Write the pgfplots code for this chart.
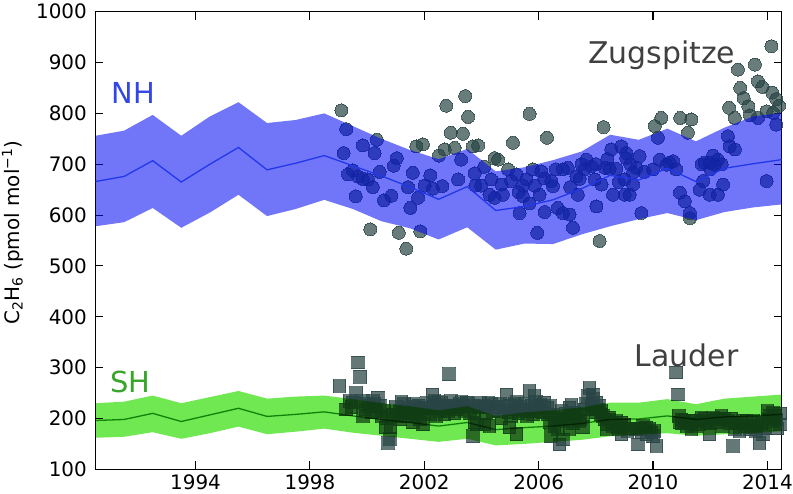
\documentclass[border=0pt]{standalone}
\usepackage{fontspec}
\setmainfont{DejaVu Sans}
\usepackage{pgfplots}
\pgfplotsset{compat=1.18}
\usepackage{pgfplotstable}

\definecolor{nhfill}{RGB}{0,10,240}
\definecolor{nhline}{RGB}{35,55,235}
\definecolor{shfill}{RGB}{112,232,82}
\definecolor{shline}{RGB}{35,145,30}
\definecolor{mk}{RGB}{40,68,68}
\definecolor{nhtext}{RGB}{50,70,230}
\definecolor{shtext}{RGB}{55,165,40}
\definecolor{sitetext}{RGB}{64,64,64}

\pgfplotstableread{
yr nhmid shmid
1990.5 666 196
1991.5 676 198
1992.5 707 210
1993.5 665 194
1994.5 700 207
1995.5 733 220
1996.5 689 204
1997.5 702 208
1998.5 717 213
1999.5 697 205
2000.5 677 198
2001.5 655 192
2002.5 631 185
2003.5 656 192
2004.5 609 178
2005.5 617 182
2006.5 630 185
2007.5 652 190
2008.5 678 198
2009.5 669 199
2010.5 692 205
2011.5 666 198
2012.5 692 203
2013.5 701 205
2014.5 709 208
}\model

\pgfplotstableread{
yr v
1999.10 806
1999.27 769
1999.18 722
1999.85 737
2000.34 748
2000.26 722
1999.33 680
1999.50 688
1999.68 676
1999.85 671
2000.03 670
2000.20 655
1999.60 637
2000.44 685
2000.59 629
2000.85 638
2000.93 697
2001.04 712
2001.43 655
2001.60 683
2001.51 614
2001.78 634
2001.72 735
2001.95 739
2002.01 658
2002.21 678
2002.30 652
2002.63 657
2002.51 717
2002.71 729
2002.92 762
2002.77 815
2003.43 834
2003.53 793
2003.35 760
2003.06 732
2003.29 709
2003.18 670
2003.70 735
2003.79 658
2000.11 572
2001.11 565
2001.37 534
2001.86 568
2003.88 737
2005.68 799
2006.29 752
2005.10 742
2004.58 709
2004.46 712
2004.93 690
2005.22 680
2003.76 682
2004.34 670
2003.99 658
2004.28 640
2004.46 634
2004.75 640
2005.04 667
2005.45 658
2005.57 670
2005.45 637
2005.68 623
2005.33 604
2006.09 686
2005.86 658
2006.03 640
2006.21 606
2006.44 667
2006.50 657
2006.67 614
2006.85 604
2007.08 601
2007.20 575
2005.95 565
2006.85 690
2007.02 693
2007.37 640
2007.32 676
2007.67 709
2007.61 690
2007.84 696
2007.43 671
2008.02 617
2007.96 670
2008.31 693
2008.48 691
2008.72 691
2008.54 729
2008.89 735
2009.06 712
2008.60 640
2009.01 640
2008.27 773
2008.13 549
2009.00 670
2014.14 932
2013.56 896
2012.97 886
2013.05 850
2013.17 830
2013.67 863
2013.82 852
2014.17 841
2014.31 828
2012.66 811
2012.86 791
2013.33 814
2013.39 796
2013.97 804
2014.20 801
2014.41 815
2013.67 791
2014.31 778
2012.62 755
2012.68 735
2012.86 729
2013.97 667
2012.27 709
2012.16 699
2011.98 703
2011.80 703
2012.10 717
2012.45 660
2012.27 640
2011.98 640
2011.63 650
2011.75 667
2010.29 791
2010.06 775
2010.95 791
2011.34 788
2011.22 762
2010.17 752
2010.58 703
2010.70 706
2010.47 699
2010.23 709
2010.81 690
2010.94 644
2011.11 627
2011.29 604
2011.29 594
2010.00 690
2009.53 716
2009.42 693
2009.06 722
2009.30 683
2009.30 660
2009.18 640
2009.59 604
2004.10 695
2004.70 660
2005.30 645
2005.80 690
2006.20 672
2006.60 690
2007.10 655
2007.50 700
2008.00 700
2008.20 660
2008.40 710
2008.80 665
2009.20 700
2009.70 685
2011.70 700
2012.40 700
2012.00 690
}\zug

\pgfplotstableread{
yr v
1999.04 264
1999.68 310
1999.76 282
1999.62 250
1999.39 234
1999.27 218
1999.50 231
1999.85 234
2000.20 234
2000.37 241
2000.05 224
2000.32 215
1999.85 205
2000.50 205
2000.65 182
2000.82 182
2000.73 152
2000.80 160
2001.14 215
2001.37 205
2001.60 228
2001.72 215
2001.84 198
2001.95 188
2001.60 192
2001.14 198
2002.19 208
2002.28 247
2002.36 234
2002.54 215
2002.71 208
2002.86 287
2002.94 234
2003.12 218
2003.23 228
2003.47 231
2003.70 224
2003.82 188
2003.70 165
2003.76 192
2004.05 224
2004.11 188
2004.28 185
2004.40 215
2004.87 247
2005.04 205
2005.22 169
2005.10 218
2005.45 215
2005.68 215
2005.68 254
2005.86 244
2006.21 231
2006.03 215
2006.32 208
2006.39 192
2006.56 185
2006.67 179
2006.44 165
2006.85 159
2006.73 149
2007.08 221
2007.14 208
2007.32 205
2007.55 208
2007.78 260
2007.72 244
2007.90 247
2008.02 231
2008.07 218
2008.19 208
2008.31 198
2008.48 198
2008.72 195
2008.83 179
2008.89 169
2008.37 179
2007.55 182
2007.08 179
2004.98 182
2010.81 290
2010.87 247
2008.89 192
2009.47 149
2009.65 185
2009.88 179
2009.77 169
2010.00 165
2010.12 146
2010.99 198
2011.17 185
2011.34 179
2011.46 195
2011.69 201
2011.87 192
2011.98 169
2012.10 201
2012.33 198
2012.45 185
2012.62 195
2012.80 146
2012.86 179
2013.03 175
2013.27 195
2013.44 182
2013.61 185
2013.73 152
2013.85 169
2014.02 198
2014.20 211
2014.31 198
2014.43 188
2001.00 222
2001.25 212
2001.45 220
2001.80 225
2002.05 220
2002.45 225
2002.60 230
2002.80 225
2003.00 225
2003.35 225
2003.55 228
2003.90 222
2004.20 222
2004.60 215
2004.70 200
2005.30 210
2005.55 218
2005.80 208
2006.10 222
2006.60 200
2006.90 195
2007.20 190
2007.40 195
2007.90 238
2008.10 225
2008.60 185
2009.00 188
2009.20 180
2009.60 172
2011.00 190
2011.50 185
2012.00 190
2012.50 200
2012.70 190
2013.10 190
2013.50 195
2013.90 180
2014.10 205
2014.45 210
2000.00 228
2000.15 212
2000.45 225
2000.60 215
2000.90 208
2001.05 205
2001.30 228
2001.50 210
2001.70 205
2001.90 220
2002.10 230
2002.30 222
2002.40 205
2002.65 220
2002.85 215
2003.05 210
2003.20 222
2003.40 215
2003.60 210
2003.95 230
2004.15 210
2004.35 228
2004.50 222
2004.80 222
2004.95 212
2005.15 228
2005.35 222
2005.60 205
2005.75 225
2005.95 220
2006.15 212
2006.30 220
2006.50 208
2006.75 200
2006.95 210
2007.00 200
2007.25 212
2007.45 198
2007.65 228
2007.85 225
2008.00 212
2008.25 205
2008.40 188
2008.55 192
2008.75 182
2009.10 175
2009.40 178
2009.75 182
2009.95 172
2010.90 205
2011.10 195
2011.30 190
2011.60 188
2011.80 200
2012.20 192
2012.40 205
2012.90 192
2013.20 185
2013.40 178
2013.60 175
2013.80 190
2014.00 215
2014.25 205
2014.35 180
1999.45 222
1999.95 218
2000.25 228
2000.70 200
2001.20 232
2001.65 222
2002.00 212
2002.50 232
2002.95 222
2003.30 232
2003.75 215
2004.25 230
2004.65 228
2005.00 225
2005.25 232
2005.50 228
2005.90 232
2006.05 226
2006.40 224
2006.80 215
2007.15 226
2007.60 218
2007.95 218
2008.20 215
2008.45 202
2008.90 185
2009.55 180
2010.05 175
2010.95 192
2011.40 196
2011.90 196
2012.25 200
2012.75 200
2013.15 196
2013.65 192
2014.15 195
}\lau

\begin{document}
\begin{tikzpicture}
\begin{axis}[
  set layers,
  at={(95.5bp,24.7bp)}, anchor=south west,
  scale only axis, width=686.2bp, height=457.6bp,
  xmin=1990.5, xmax=2014.5, ymin=100, ymax=1000,
  xtick={1994,1998,2002,2006,2010,2014},
  ytick={100,200,300,400,500,600,700,800,900,1000},
  tick align=inside, major tick length=8bp,
  axis line style={line width=1.4bp},
  every tick/.style={black, line width=1.1bp},
  tick label style={font=\fontsize{20}{24}\selectfont},
  /pgf/number format/assume math mode=true,
  /pgf/number format/1000 sep={},
  xticklabel style={anchor=north, inner sep=0pt, yshift=-5bp},
  yticklabel style={anchor=east, inner sep=0pt, xshift=-8.5bp},
  clip marker paths=true,
]
% Zugspitze observations
\addplot[only marks, on layer=pre main, mark layer=pre main, mark=*, mark size=6.5bp,
  mark options={fill=mk, draw=mk, line width=0pt, opacity=0.7}]
  table[x=yr, y=v]{\zug};
% Lauder observations
\addplot[only marks, on layer=pre main, mark layer=pre main, mark=square*, mark size=6.3bp,
  mark options={fill=mk, draw=mk, line width=0pt, opacity=0.72}]
  table[x=yr, y=v]{\lau};
% NH model band
\addplot[on layer=axis foreground, fill=nhfill, fill opacity=0.56, draw=none] coordinates {
(1990.5,756) (1991.5,766) (1992.5,797) (1993.5,756) (1994.5,794) (1995.5,822)
(1996.5,781) (1997.5,787) (1998.5,800) (1999.5,775) (2000.5,750) (2001.5,728)
(2002.5,710) (2003.5,730) (2004.5,686) (2005.5,694) (2006.5,708) (2007.5,725)
(2008.5,758) (2009.5,748) (2010.5,770) (2011.5,745) (2012.5,772) (2013.5,794)
(2014.5,801)
(2014.5,621) (2013.5,615) (2012.5,606) (2011.5,590) (2010.5,604) (2009.5,592)
(2008.5,578) (2007.5,562) (2006.5,543) (2005.5,544) (2004.5,532) (2003.5,576)
(2002.5,552) (2001.5,574) (2000.5,588) (1999.5,612) (1998.5,630) (1997.5,612)
(1996.5,598) (1995.5,640) (1994.5,605) (1993.5,575) (1992.5,614) (1991.5,586)
(1990.5,578)} -- cycle;
\addplot[on layer=axis foreground, nhline, line width=1.3bp] table[x=yr, y=nhmid]{\model};
% SH model band
\addplot[on layer=axis foreground, fill=shfill, draw=none, blend mode=multiply] coordinates {
(1990.5,230) (1991.5,233) (1992.5,245) (1993.5,230) (1994.5,242) (1995.5,254)
(1996.5,239) (1997.5,243) (1998.5,245) (1999.5,238) (2000.5,230) (2001.5,224)
(2002.5,216) (2003.5,224) (2004.5,205) (2005.5,212) (2006.5,216) (2007.5,222)
(2008.5,231) (2009.5,231) (2010.5,238) (2011.5,228) (2012.5,239) (2013.5,243)
(2014.5,247)
(2014.5,175) (2013.5,171) (2012.5,169) (2011.5,166) (2010.5,171) (2009.5,168)
(2008.5,165) (2007.5,158) (2006.5,154) (2005.5,150) (2004.5,147) (2003.5,160)
(2002.5,154) (2001.5,160) (2000.5,166) (1999.5,172) (1998.5,180) (1997.5,174)
(1996.5,169) (1995.5,184) (1994.5,171) (1993.5,160) (1992.5,173) (1991.5,164)
(1990.5,162)} -- cycle;
\addplot[on layer=axis foreground, shline, line width=1.3bp, blend mode=multiply] table[x=yr, y=shmid]{\model};
% labels
\node[anchor=base west, inner sep=0pt, text=nhtext, font=\fontsize{29}{34}\selectfont] at (axis cs:1991.05,820) {NH};
\node[anchor=base west, inner sep=0pt, text=shtext, font=\fontsize{29}{34}\selectfont] at (axis cs:1991.01,251) {SH};
\node[anchor=base west, inner sep=0pt, text=sitetext, font=\fontsize{30}{36}\selectfont] at (axis cs:2007.72,899) {Zugspitze};
\node[anchor=base west, inner sep=0pt, text=sitetext, font=\fontsize{30}{36}\selectfont] at (axis cs:2009.36,302) {Lauder};
\end{axis}
\node[rotate=90, anchor=base, inner sep=0pt, font=\fontsize{20}{24}\selectfont] at (19.5bp,261.5bp) {C\textsubscript{2}H\textsubscript{6} (pmol mol\textsuperscript{−1})};
\pgfresetboundingbox
\path (0,0) rectangle (793bp,494bp);
\end{tikzpicture}
\end{document}
